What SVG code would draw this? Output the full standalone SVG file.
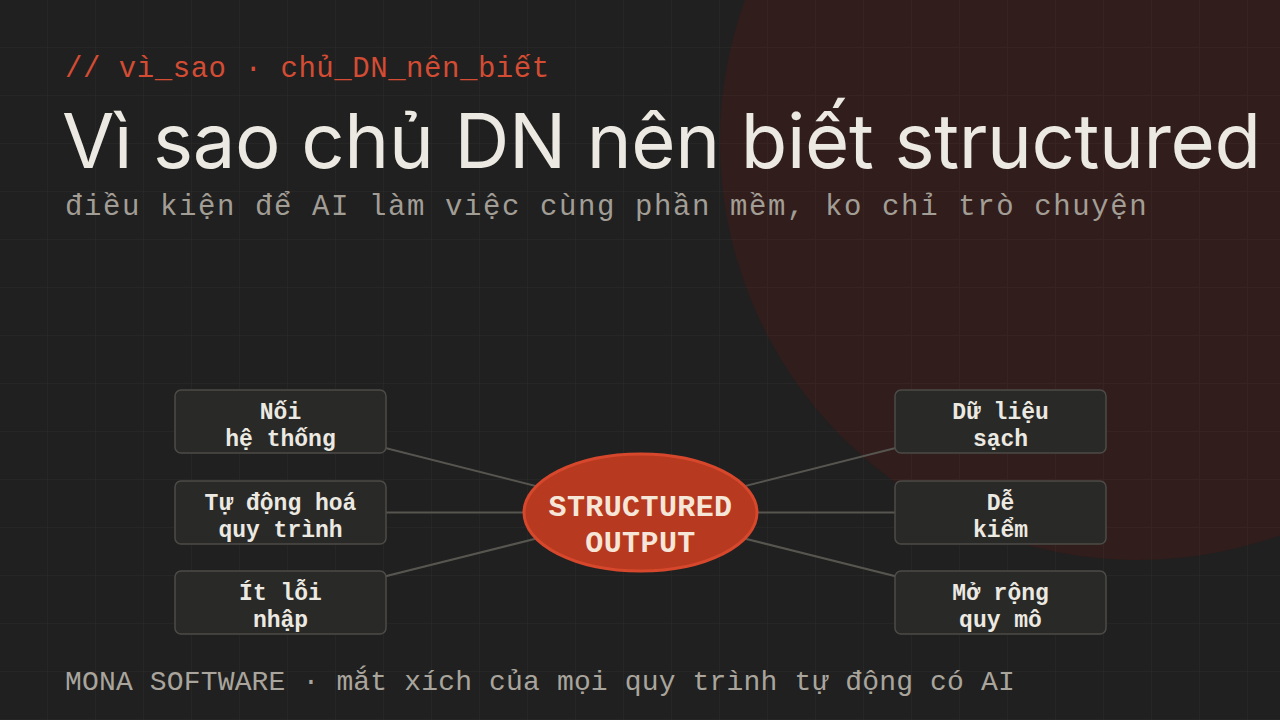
<svg xmlns="http://www.w3.org/2000/svg" width="1280" height="720" viewBox="0 0 1280 720">
  <defs>
    <pattern id="grid" width="48" height="48" patternUnits="userSpaceOnUse">
      <path d="M48 0V48M0 48H48" fill="none" stroke="#ffffff" stroke-opacity="0.035" stroke-width="1.5"/>
    </pattern>
    <style>
      .mono { font-family: "Liberation Mono", "DejaVu Sans Mono", monospace; }
      .node rect { fill: #292927; stroke: #4c4b47; stroke-width: 1.5; }
      .node text { font-family: "Liberation Mono", "DejaVu Sans Mono", monospace; font-weight: bold; font-size: 23px; fill: #ece9e2; text-anchor: middle; }
      .conn line { stroke: #57554f; stroke-width: 2; }
      .hub text { font-family: "Liberation Mono", "DejaVu Sans Mono", monospace; font-weight: bold; font-size: 30px; letter-spacing: 0.4px; fill: #f6e6d8; text-anchor: middle; }
    </style>
  </defs>

  <rect width="1280" height="720" fill="#202020"/>
  <circle cx="1138" cy="142" r="418" fill="#311d1b"/>
  <rect width="1280" height="720" fill="url(#grid)"/>

  <text class="mono" x="65" y="77" font-size="29" letter-spacing="0.55" fill="#d34c33">// vì_sao · chủ_DN_nên_biết</text>
  <text x="62" y="168" font-family="Inter, 'Liberation Sans', sans-serif" font-size="76" fill="#ece9e2" textLength="1199" lengthAdjust="spacing">Vì sao chủ DN nên biết structured</text>
  <text class="mono" x="65" y="215" font-size="29" letter-spacing="1.6" fill="#a29e96">điều kiện để AI làm việc cùng phần mềm, ko chỉ trò chuyện</text>

  <g id="connectors" class="conn">
    <line x1="640.5" y1="512.5" x2="280.5" y2="421.5"/>
    <line x1="640.5" y1="512.5" x2="280.5" y2="512.5"/>
    <line x1="640.5" y1="512.5" x2="280.5" y2="602.5"/>
    <line x1="640.5" y1="512.5" x2="1000.5" y2="421.5"/>
    <line x1="640.5" y1="512.5" x2="1000.5" y2="512.5"/>
    <line x1="640.5" y1="512.5" x2="1000.5" y2="602.5"/>
  </g>

  <g id="node-noi-he-thong" class="node">
    <rect x="175" y="390" width="211" height="63" rx="6"/>
    <text x="280.5" y="419">Nối</text>
    <text x="280.5" y="445.5">hệ thống</text>
  </g>
  <g id="node-tu-dong-hoa" class="node">
    <rect x="175" y="481" width="211" height="63" rx="6"/>
    <text x="280.5" y="510">Tự động hoá</text>
    <text x="280.5" y="536.5">quy trình</text>
  </g>
  <g id="node-it-loi-nhap" class="node">
    <rect x="175" y="571" width="211" height="63" rx="6"/>
    <text x="280.5" y="600">Ít lỗi</text>
    <text x="280.5" y="626.5">nhập</text>
  </g>
  <g id="node-du-lieu-sach" class="node">
    <rect x="895" y="390" width="211" height="63" rx="6"/>
    <text x="1000.5" y="419">Dữ liệu</text>
    <text x="1000.5" y="445.5">sạch</text>
  </g>
  <g id="node-de-kiem" class="node">
    <rect x="895" y="481" width="211" height="63" rx="6"/>
    <text x="1000.5" y="510">Dễ</text>
    <text x="1000.5" y="536.5">kiểm</text>
  </g>
  <g id="node-mo-rong" class="node">
    <rect x="895" y="571" width="211" height="63" rx="6"/>
    <text x="1000.5" y="600">Mở rộng</text>
    <text x="1000.5" y="626.5">quy mô</text>
  </g>

  <g id="node-structured-output" class="hub">
    <ellipse cx="640.5" cy="512.5" rx="116.5" ry="58.5" fill="#b7391f" stroke="#d6472c" stroke-width="3"/>
    <text x="640.5" y="516">STRUCTURED</text>
    <text x="640.5" y="552">OUTPUT</text>
  </g>

  <text class="mono" x="65" y="690" font-size="28" letter-spacing="0.16" fill="#a9a59d">MONA SOFTWARE · mắt xích của mọi quy trình tự động có AI</text>
</svg>
